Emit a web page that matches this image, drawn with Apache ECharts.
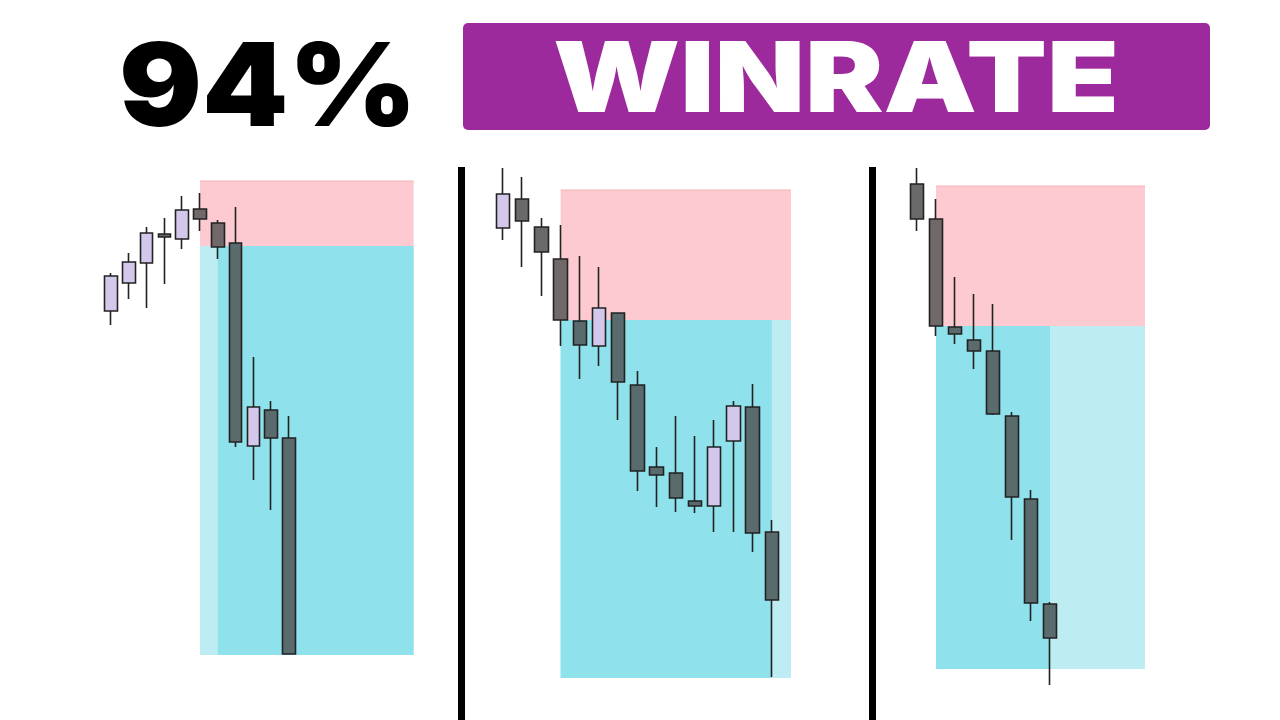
<!DOCTYPE html>
<html><head><meta charset="utf-8">
<script src="https://cdn.jsdelivr.net/npm/echarts@6/dist/echarts.min.js"></script>
<style>html,body{margin:0;padding:0;background:#fff}#c{width:1280px;height:720px}</style>
</head><body><div id="c"></div>
<script>
// Candles: [open, close, low, high]
const panel1Candles = [
  [409, 444, 395, 447],
  [437, 458, 421, 467],
  [457, 487, 412, 493],
  [486, 483, 436, 502],
  [481, 510, 471, 524],
  [511, 501, 489, 527],
  [497, 473, 461, 500],
  [477, 278, 273, 513],
  [274, 313, 240, 363],
  [310, 282, 210, 319],
  [282, 66, 66, 304]
];
const panel2Candles = [
  [492, 526, 480, 552],
  [521, 499, 453, 543],
  [493, 468, 424, 502],
  [461, 400, 374, 495],
  [399, 375, 341, 464],
  [374, 412, 354, 453],
  [407, 338, 300, 407],
  [335, 249, 229, 349],
  [253, 245, 213, 273],
  [247, 222, 208, 304],
  [219, 214, 207, 284],
  [214, 273, 188, 300],
  [279, 314, 188, 319],
  [313, 187, 168, 336],
  [188, 120, 43, 200]
];
const panel3Candles = [
  [536, 501, 489, 552],
  [501, 394, 384, 521],
  [393, 386, 376, 443],
  [380, 369, 351, 426],
  [369, 306, 305, 416],
  [304, 223, 180, 308],
  [221, 117, 99, 230],
  [116, 82, 35, 118]
];
// Trade boxes: [startIdx, activeStartIdx, activeEndIdx, endIdx, stop, entry, target]
const panel1Trade = [5, 6, 17, 17, 539, 474, 65];
const panel2Trade = [3, 3, 14, 15, 530, 400, 42];
const panel3Trade = [1, 1, 7, 12, 534, 394, 51];
const panelSlots = [18, 16, 13];
const headline = '94%';
const bannerText = 'WINRATE';
const priceMin = 20, priceMax = 560;

const edge = '#222222';
const bullFill = '#d4c7ec';
const bearPlain = '#6a6a6a', bearPink = '#716869', bearCyan = '#5a6b6d';
const boxColors = ['#fccad0', '#bdedf2', '#8fe1eb'];

function styled(candles, trade) {
  return candles.map((c, i) => {
    const mid = (c[0] + c[1]) / 2;
    const inBox = i >= trade[0] && i <= trade[3];
    const bull = c[1] > c[0];
    const fill = bull ? bullFill : (inBox ? (mid >= trade[5] ? bearPink : bearCyan) : bearPlain);
    return { value: c, itemStyle: { color: fill, color0: fill, borderColor: edge, borderColor0: edge } };
  });
}
function boxRects(t) {
  return [
    [t[0], t[3], t[4], t[5], 0],
    [t[0], t[3], t[5], t[6], 1],
    [t[1], t[2], t[5], t[6], 2]
  ];
}
function renderBox(params, api) {
  const p0 = api.coord([api.value(0), api.value(2)]);
  const p1 = api.coord([api.value(1), api.value(3)]);
  const kind = api.value(4);
  const children = [{
    type: 'rect',
    shape: { x: p0[0], y: p0[1], width: p1[0] - p0[0], height: p1[1] - p0[1] },
    style: { fill: boxColors[kind] }
  }];
  if (kind === 0) {
    children.push({ type: 'line', shape: { x1: p0[0], y1: p0[1], x2: p1[0], y2: p0[1] }, style: { stroke: '#f4b1b8', lineWidth: 1 } });
  }
  return { type: 'group', children };
}

const grids = [
  { left: 102.1, width: 320.4, top: 160, height: 540 },
  { left: 493.4, width: 307.2, top: 160, height: 540 },
  { left: 907.5, width: 247, top: 160, height: 540 }
];
const candles = [panel1Candles, panel2Candles, panel3Candles];
const trades = [panel1Trade, panel2Trade, panel3Trade];
const widths = [13, 14, 14];

const series = [];
candles.forEach((cd, k) => {
  series.push({
    type: 'custom', xAxisIndex: k, yAxisIndex: k, z: 1, silent: true, clip: false,
    encode: { x: [0, 1], y: [2, 3] },
    renderItem: renderBox, data: boxRects(trades[k])
  });
  series.push({
    type: 'candlestick', xAxisIndex: k, yAxisIndex: k, z: 2, barWidth: widths[k],
    itemStyle: { borderWidth: 1.6 },
    data: styled(cd, trades[k])
  });
});

const chart = echarts.init(document.getElementById('c'), null, { renderer: 'canvas' });
chart.setOption({
  animation: false,
  backgroundColor: '#ffffff',
  grid: grids,
  xAxis: panelSlots.map((n, k) => ({
    type: 'category', gridIndex: k, boundaryGap: true, show: false,
    data: Array.from({ length: n }, (_, i) => String(i))
  })),
  yAxis: grids.map((g, k) => ({ type: 'value', gridIndex: k, min: priceMin, max: priceMax, show: false })),
  graphic: [
    { type: 'rect', shape: { x: 458, y: 167, width: 7, height: 553 }, style: { fill: '#000' } },
    { type: 'rect', shape: { x: 869, y: 167, width: 7, height: 553 }, style: { fill: '#000' } },
    { type: 'rect', shape: { x: 463, y: 23, width: 747, height: 107, r: 5 }, style: { fill: '#9d2a9d' } },
    { type: 'text', x: 836, y: 83, scaleX: 1.2,
      style: { text: bannerText, font: '900 98px Inter', fill: '#fff', textAlign: 'center', textVerticalAlign: 'middle' } },
    { type: 'text', x: 268, y: 91, scaleX: 1.07,
      style: { text: headline, font: '900 115px Inter', fill: '#000', textAlign: 'center', textVerticalAlign: 'middle' } }
  ],
  series
});
</script></body></html>
